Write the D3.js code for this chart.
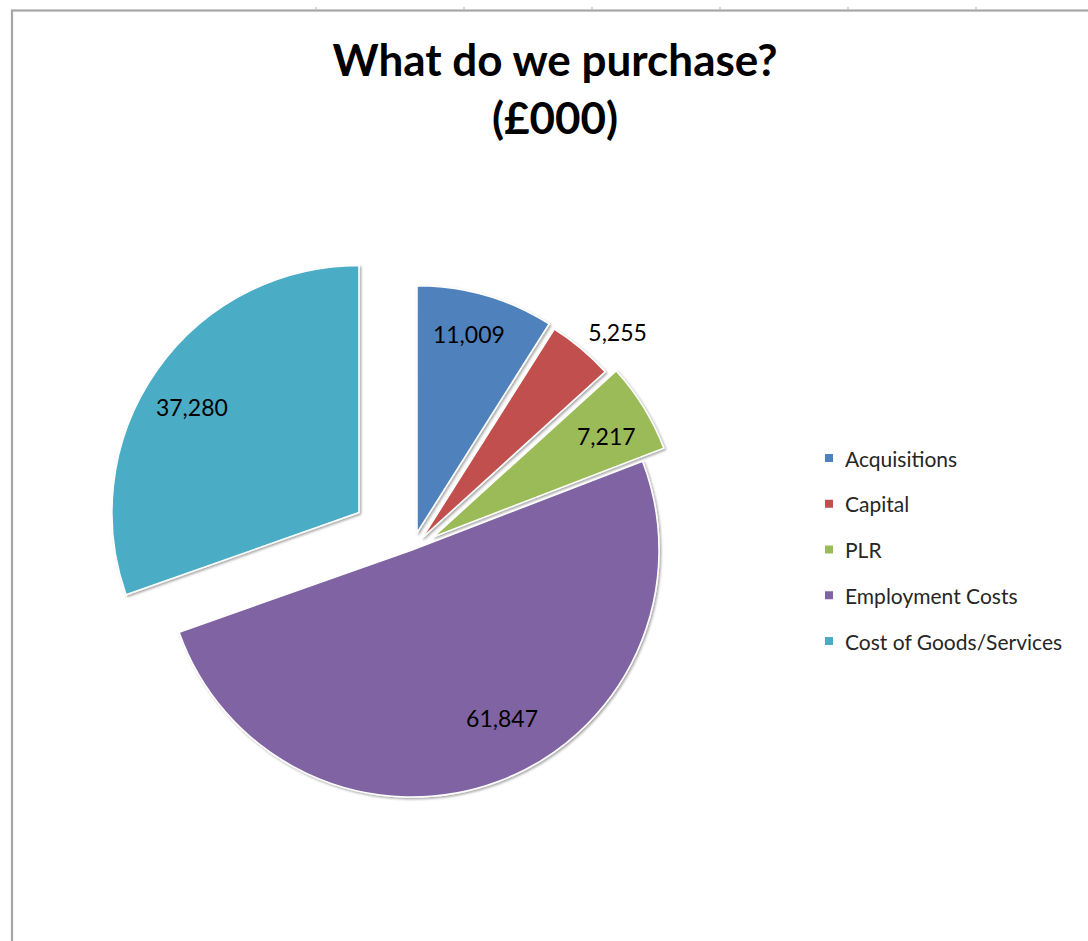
<!DOCTYPE html>
<html>
<head>
<meta charset="utf-8">
<script src="https://cdn.jsdelivr.net/npm/d3@7"></script>
<style>
  html, body { margin: 0; padding: 0; background: #fff; }
  svg { display: block; }
</style>
</head>
<body>
<svg id="chart" width="1088" height="941"></svg>
<script>
// ---- data ----
const categories = ["Acquisitions", "Capital", "PLR", "Employment Costs", "Cost of Goods/Services"];
const values = [11009, 5255, 7217, 61847, 37280];
const titleLines = ["What do we purchase?", "(£000)"];

// ---- style ----
const colors = ["#4F81BD", "#C0504D", "#9BBB59", "#8064A2", "#4BACC6"];
const explode = [18, 16, 25, 0, 65];                 // px offset of each slice
const labelRadius = [0.83, 1.15, 0.81, 0.77, 0.80];  // fraction of radius
const labelShiftDeg = [-1.5, 3.4, 1.5, -8, -3];      // label angle tweak

const W = 1088, H = 941;
const cx = 412, cy = 550, R = 247;

const svg = d3.select("#chart");
const defs = svg.append("defs");
const f = defs.append("filter").attr("id", "shadow")
  .attr("x", "-10%").attr("y", "-10%").attr("width", "120%").attr("height", "120%");
f.append("feDropShadow").attr("dx", 1.5).attr("dy", 1.5)
  .attr("stdDeviation", 1.2).attr("flood-color", "#000").attr("flood-opacity", 0.35);

// frame (Excel chart area border) and column ticks
svg.append("rect").attr("x", 12).attr("y", 10.5).attr("width", W + 20).attr("height", H + 20)
  .attr("fill", "#fff").attr("stroke", "#a6a6a6").attr("stroke-width", 2.2);
[316, 464, 592, 720, 848, 976].forEach(x => {
  svg.append("line").attr("x1", x).attr("x2", x).attr("y1", 7).attr("y2", 9.5)
    .attr("stroke", "#c8c8c8").attr("stroke-width", 1.5);
});

// title
const title = svg.append("text").attr("text-anchor", "middle")
  .attr("font-family", "Lato, 'Open Sans', sans-serif").attr("font-weight", "bold")
  .attr("font-size", 44).attr("fill", "#000");
title.append("tspan").attr("x", 555).attr("y", 76).text(titleLines[0]);
title.append("tspan").attr("x", 555).attr("y", 134).text(titleLines[1]);

// pie
const pie = d3.pie().sort(null).value(d => d)(values);
const arc = d3.arc().innerRadius(0).outerRadius(R);
const fmt = d3.format(",");

const g = svg.append("g").attr("transform", `translate(${cx},${cy})`);
const slices = g.selectAll("g.slice").data(pie).join("g").attr("class", "slice")
  .attr("transform", (d, i) => {
    const m = (d.startAngle + d.endAngle) / 2;
    return `translate(${explode[i] * Math.sin(m)},${-explode[i] * Math.cos(m)})`;
  });

slices.append("path")
  .attr("d", arc)
  .attr("fill", (d, i) => colors[i])
  .attr("stroke", "#fff").attr("stroke-width", 1.5).attr("stroke-linejoin", "round")
  .attr("filter", "url(#shadow)");

const labAng = (d, i) => (d.startAngle + d.endAngle) / 2 + labelShiftDeg[i] * Math.PI / 180;
slices.append("text")
  .attr("x", (d, i) => labelRadius[i] * R * Math.sin(labAng(d, i)))
  .attr("y", (d, i) => -labelRadius[i] * R * Math.cos(labAng(d, i)))
  .attr("text-anchor", "middle").attr("dominant-baseline", "central")
  .attr("font-family", "Lato, 'Open Sans', sans-serif").attr("font-size", 23)
  .attr("fill", "#000")
  .text(d => fmt(d.data));

// legend
const legend = svg.append("g");
const ly0 = 458, lstep = 45.75;
categories.forEach((c, i) => {
  legend.append("rect").attr("x", 825).attr("y", ly0 + i * lstep - 4).attr("width", 8).attr("height", 8)
    .attr("fill", colors[i]);
  legend.append("text").attr("x", 845).attr("y", ly0 + i * lstep)
    .attr("dominant-baseline", "central")
    .attr("font-family", "Lato, 'Open Sans', sans-serif").attr("font-size", 21)
    .attr("fill", "#262626").text(c);
});
</script>
</body>
</html>
